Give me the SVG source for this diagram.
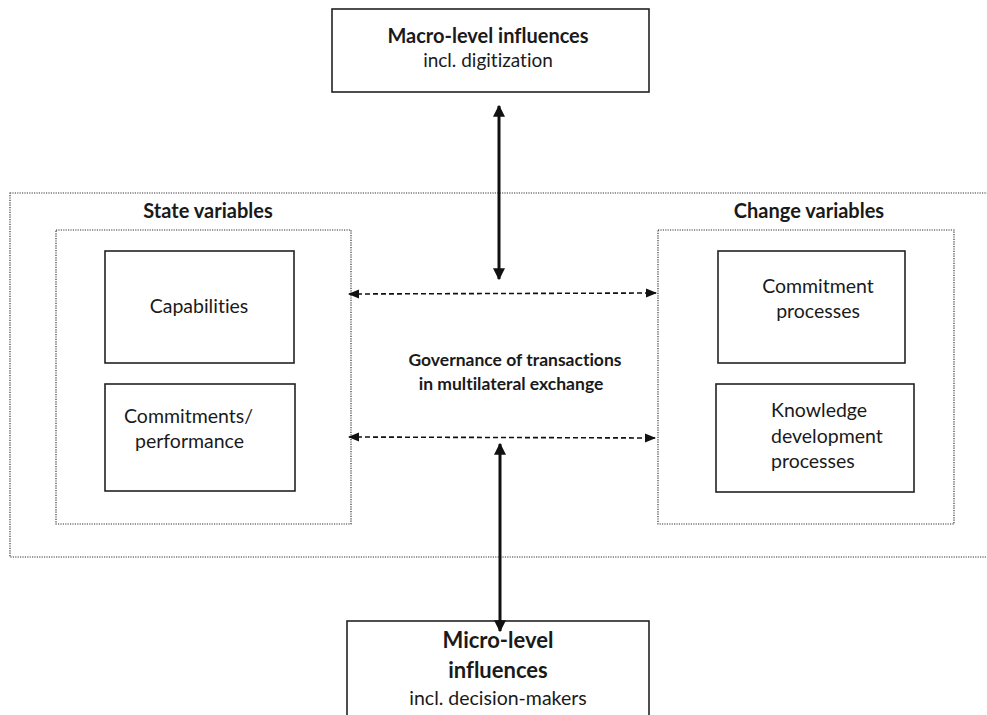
<svg xmlns="http://www.w3.org/2000/svg" width="987" height="715" viewBox="0 0 987 715">
<defs>
<style>
.box{fill:#fff;stroke:#222;stroke-width:1.6}
.dot{fill:none;stroke:#333;stroke-width:1.2;stroke-dasharray:1.2 1.2}
.t{font-family:Lato,"Open Sans","Liberation Sans",sans-serif;fill:#1a1a1a;text-anchor:middle;font-variant-ligatures:none;font-feature-settings:"liga" 0,"dlig" 0}
.s{text-anchor:start}
.b{font-weight:bold}
.solid{stroke:#111;stroke-width:3;fill:none}
.dash{stroke:#111;stroke-width:1.6;stroke-dasharray:5 3;fill:none}
</style>
<marker id="ah" viewBox="0 0 10 10" refX="9" refY="5" markerWidth="4" markerHeight="4" orient="auto-start-reverse" markerUnits="strokeWidth">
<path d="M0,0 L10,5 L0,10 z" fill="#111"/>
</marker>
<marker id="ah2" viewBox="0 0 10 10" refX="9" refY="5" markerWidth="7" markerHeight="7" orient="auto-start-reverse" markerUnits="strokeWidth">
<path d="M0,1 L10,5 L0,9 z" fill="#111"/>
</marker>
</defs>
<rect width="987" height="715" fill="#fff"/>

<g id="outer">
<rect class="dot" x="10" y="193" width="990" height="364"/>
</g>

<g id="state">
<rect class="dot" x="56" y="230" width="295" height="294"/>
<text class="t b" x="208" y="218" font-size="20">State variables</text>
</g>

<g id="change">
<rect class="dot" x="658" y="230" width="296" height="294"/>
<text class="t b" x="809" y="218" font-size="20">Change variables</text>
</g>

<g id="macro">
<rect class="box" x="332" y="9" width="317" height="83"/>
<text class="t b" x="488" y="43" font-size="20">Macro-level influences</text>
<text class="t" x="488" y="67" font-size="19">incl. digitization</text>
</g>

<g id="capabilities">
<rect class="box" x="105" y="251" width="189" height="112"/>
<text class="t" x="199" y="313" font-size="19.5">Capabilities</text>
</g>

<g id="commitments">
<rect class="box" x="105" y="384" width="190" height="107"/>
<text class="t s" x="124" y="423" font-size="19.5">Commitments/</text>
<text class="t s" x="135" y="448" font-size="19.5">performance</text>
</g>

<g id="commitment-processes">
<rect class="box" x="718" y="251" width="187" height="112"/>
<text class="t" x="818" y="293" font-size="19.5">Commitment</text>
<text class="t" x="818" y="318" font-size="19.5">processes</text>
</g>

<g id="knowledge">
<rect class="box" x="716" y="384" width="198" height="108"/>
<text class="t s" x="771" y="417" font-size="19.5">Knowledge</text>
<text class="t s" x="771" y="443" font-size="19.5">development</text>
<text class="t s" x="771" y="468" font-size="19.5">processes</text>
</g>

<g id="governance">
<text class="t b" x="515" y="366" font-size="17.5">Governance of transactions</text>
<text class="t b" x="511" y="390" font-size="17.5">in multilateral exchange</text>
</g>

<g id="micro">
<rect class="box" x="347" y="621" width="302" height="110"/>
<text class="t b" x="498" y="648" font-size="22">Micro-level</text>
<text class="t b" x="498" y="678" font-size="22">influences</text>
<text class="t" x="498" y="705" font-size="19.5">incl. decision-makers</text>
</g>

<g id="connectors">
<line class="solid" x1="499" y1="106" x2="499" y2="279" marker-start="url(#ah)" marker-end="url(#ah)"/>
<line class="solid" x1="500" y1="444" x2="500" y2="631" marker-start="url(#ah)" marker-end="url(#ah)"/>
<line class="dash" x1="349" y1="294" x2="656" y2="293" marker-start="url(#ah2)" marker-end="url(#ah2)"/>
<line class="dash" x1="349" y1="437" x2="655" y2="438" marker-start="url(#ah2)" marker-end="url(#ah2)"/>
</g>
</svg>
